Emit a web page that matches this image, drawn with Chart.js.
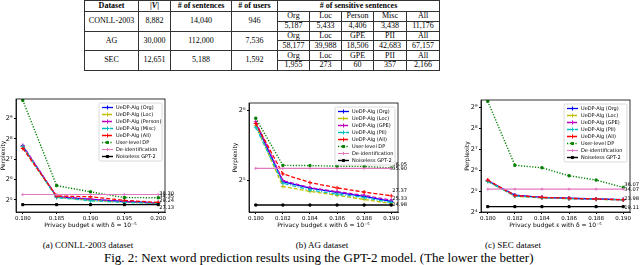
<!DOCTYPE html>
<html>
<head>
<meta charset="utf-8">
<script src="https://cdn.jsdelivr.net/npm/chart.js@4.4.1/dist/chart.umd.min.js"></script>
<style>
  html, body { margin: 0; padding: 0; background: #fff; }
  body { width: 640px; height: 265px; position: relative; overflow: hidden; font-family: "Liberation Serif", "Times New Roman", serif; color: #000; }
  #stats { position: absolute; left: 84px; top: 0; border-collapse: collapse; table-layout: fixed; width: 355px; font-size: 8px; }
  #stats th, #stats td { border: 1px solid #333; text-align: center; padding: 0; line-height: 8px; white-space: nowrap; overflow: hidden; }
  #stats tr.hd { height: 11px; }
  #stats tr.sub { height: 9.8px; }
  canvas { position: absolute; }
  .cap { position: absolute; font-size: 9px; text-align: center; white-space: nowrap; }
  #figcap { position: absolute; left: 104px; top: 250px; font-size: 13px; white-space: nowrap; }
</style>
</head>
<body>
<table id="stats">
  <colgroup>
    <col style="width:54px"><col style="width:32px"><col style="width:61px"><col style="width:46px">
    <col style="width:32px"><col style="width:32px"><col style="width:32px"><col style="width:33px"><col style="width:33px">
  </colgroup>
  <tr class="hd"><th>Dataset</th><th>|<i>V</i>|</th><th># of sentences</th><th># of users</th><th colspan="5"># of sensitive sentences</th></tr>
  <tr class="sub"><td rowspan="2">CONLL-2003</td><td rowspan="2">8,882</td><td rowspan="2">14,040</td><td rowspan="2">946</td><td>Org</td><td>Loc</td><td>Person</td><td>Misc</td><td>All</td></tr>
  <tr class="sub"><td>5,187</td><td>5,433</td><td>4,406</td><td>3,438</td><td>11,176</td></tr>
  <tr class="sub"><td rowspan="2">AG</td><td rowspan="2">30,000</td><td rowspan="2">112,000</td><td rowspan="2">7,536</td><td>Org</td><td>Loc</td><td>GPE</td><td>PII</td><td>All</td></tr>
  <tr class="sub"><td>58,177</td><td>39,988</td><td>18,506</td><td>42,683</td><td>67,157</td></tr>
  <tr class="sub"><td rowspan="2">SEC</td><td rowspan="2">12,651</td><td rowspan="2">5,188</td><td rowspan="2">1,592</td><td>Org</td><td>Loc</td><td>GPE</td><td>PII</td><td>All</td></tr>
  <tr class="sub"><td>1,955</td><td>273</td><td>60</td><td>357</td><td>2,166</td></tr>
</table>

<canvas id="chartA" width="215" height="137" style="left:0px;top:92px"></canvas>
<canvas id="chartB" width="215" height="137" style="left:215px;top:92px"></canvas>
<canvas id="chartC" width="210" height="137" style="left:430px;top:92px"></canvas>

<div class="cap" style="left:38px;top:240px;width:100px">(a) CONLL-2003 dataset</div>
<div class="cap" style="left:272px;top:240px;width:100px">(b) AG dataset</div>
<div class="cap" style="left:463px;top:240px;width:100px">(c) SEC dataset</div>
<div id="figcap">Fig. 2: Next word prediction results using the GPT-2 model. (The lower the better)</div>

<script>
// ---- data: CONLL-2003 ----
const epsA = [0.180, 0.185, 0.190, 0.195, 0.200];
const namesA = ['UeDP-Alg (Org)', 'UeDP-Alg (Loc)', 'UeDP-Alg (Person)', 'UeDP-Alg (Misc)', 'UeDP-Alg (All)', 'User-level DP', 'De-identification', 'Noiseless GPT-2'];
const orgA = [200, 35.5, 32.5, 30.2, 28.9];
const locA = [195, 35.0, 31.5, 29.6, 28.4];
const personA = [205, 35.8, 32.8, 30.0, 28.7];
const miscA = [198, 34.5, 31.0, 29.3, 28.3];
const allA = [185, 36.5, 35.5, 31.5, 29.24];
const userDpA = [960, 52, 42, 34.6, 34.35];
const deidA = [38.30, 38.30, 38.30, 38.30, 38.30];
const noiselessA = [27.13, 27.13, 27.13, 27.13, 27.13];
const notesA = [38.30, 34.35, 29.24, 27.13];

// ---- data: AG ----
const epsB = [0.180, 0.182, 0.184, 0.186, 0.188, 0.190];
const namesB = ['UeDP-Alg (Org)', 'UeDP-Alg (Loc)', 'UeDP-Alg (GPE)', 'UeDP-Alg (PII)', 'UeDP-Alg (All)', 'User-level DP', 'De-identification', 'Noiseless GPT-2'];
const orgB = [56, 31.5, 29.5, 28.3, 27.2, 25.9];
const locB = [55, 30.0, 28.6, 27.5, 26.4, 25.33];
const gpeB = [57, 31.8, 29.7, 28.5, 27.5, 26.2];
const piiB = [54, 31.0, 29.0, 27.8, 26.9, 25.6];
const allB = [56, 34.0, 31.2, 29.6, 28.4, 27.37];
const userDpB = [59, 37.0, 36.9, 36.7, 36.6, 36.05];
const deidB = [35.90, 35.90, 35.90, 35.90, 35.90, 35.90];
const noiselessB = [24.98, 24.98, 24.98, 24.98, 24.98, 24.98];
const notesB = [36.05, 35.90, 27.37, 25.33, 24.98];

// ---- data: SEC ----
const epsC = [0.180, 0.182, 0.184, 0.186, 0.188, 0.190];
const namesC = namesB;
const orgC = [45, 28.0, 26.0, 25.2, 24.6, 24.1];
const locC = [44, 27.0, 25.5, 24.8, 24.3, 23.9];
const gpeC = [45, 27.5, 25.8, 25.0, 24.5, 24.0];
const piiC = [44, 27.2, 25.6, 24.9, 24.4, 23.95];
const allC = [46, 27.6, 26.0, 25.2, 24.6, 23.98];
const userDpC = [620, 75, 69, 53, 46, 36.07];
const deidC = [34.07, 34.07, 34.07, 34.07, 34.07, 34.07];
const noiselessC = [19.11, 19.11, 19.11, 19.11, 19.11, 19.11];
const notesC = [36.07, 34.07, 23.98, 19.11];

// ---- styles ----
const lineStyles = [
  { color: '#0000ff', dash: [], marker: 'cross', r: 2, w: 1.3 },
  { color: '#bfbf00', dash: [4, 2], marker: 'cross', r: 2, w: 1.3 },
  { color: '#bf00bf', dash: [4, 2], marker: 'cross', r: 2, w: 1.3 },
  { color: '#00bfbf', dash: [4, 1.5, 1, 1.5], marker: 'cross', r: 2, w: 1.3 },
  { color: '#ff0000', dash: [4, 2], marker: 'cross', r: 2, w: 1.3 },
  { color: '#008000', dash: [1.2, 1.6], marker: 'rect', r: 1.5, w: 1.4 },
  { color: '#e377c2', dash: [], marker: 'cross', r: 1.5, w: 1.1 },
  { color: '#000000', dash: [], marker: 'rect', r: 1.5, w: 1.4 }
];
const sup = { '-': '⁻', '4': '⁴', '5': '⁵', '6': '⁶', '7': '⁷', '8': '⁸', '9': '⁹', '0': '⁰', '1': '¹' };

Chart.defaults.font.family = 'DejaVu Sans';
Chart.defaults.color = '#000';

function makeSeries(xs, list, names) {
  return list.map((ys, i) => {
    const st = lineStyles[i];
    return {
      label: names[i],
      data: xs.map((x, j) => ({ x: x, y: ys[j] })),
      borderColor: st.color,
      backgroundColor: st.color,
      borderWidth: st.w,
      borderDash: st.dash,
      pointStyle: st.marker,
      pointRadius: st.r,
      pointBorderWidth: 1,
      pointBorderColor: st.color,
      pointBackgroundColor: st.color,
      tension: 0,
      fill: false,
      order: list.length - i
    };
  });
}

// spines, value notes and a matplotlib-like legend inside the axes
const mplDecor = {
  id: 'mplDecor',
  afterDatasetsDraw(chart, args, opts) {
    const { ctx, chartArea: a, scales } = chart;
    ctx.save();
    ctx.setLineDash([]);
    ctx.strokeStyle = '#000';
    ctx.lineWidth = 0.8;
    ctx.strokeRect(a.left, a.top, a.right - a.left, a.bottom - a.top);

    // notes to the right of the last point
    const xEnd = scales.x.getPixelForValue(opts.xEnd);
    ctx.font = '5.2px DejaVu Sans';
    ctx.fillStyle = '#000';
    ctx.textAlign = 'left';
    ctx.textBaseline = 'alphabetic';
    opts.notes.forEach((v, i) => {
      ctx.fillText(v.toFixed(2), xEnd + 1, scales.y.getPixelForValue(v) + (opts.noteDy[i] || 0));
    });

    // legend
    const ds = chart.data.datasets;
    const rowH = 7, w = opts.legendW, h = ds.length * rowH + 2;
    const bx = a.right - 3 - w, by = a.top + 4;
    ctx.fillStyle = 'rgba(255,255,255,0.85)';
    ctx.strokeStyle = '#d0d0d0';
    ctx.lineWidth = 0.8;
    ctx.beginPath();
    ctx.roundRect(bx, by, w, h, 1.5);
    ctx.fill();
    ctx.stroke();
    ds.forEach((d, i) => {
      const y = by + 4.5 + i * rowH;
      const x0 = bx + 3, x1 = bx + 14;
      ctx.strokeStyle = d.borderColor;
      ctx.lineWidth = d.borderWidth;
      ctx.setLineDash(d.borderDash);
      ctx.beginPath();
      ctx.moveTo(x0, y);
      ctx.lineTo(x1, y);
      ctx.stroke();
      ctx.setLineDash([]);
      ctx.fillStyle = d.borderColor;
      ctx.lineWidth = 1;
      Chart.helpers.drawPoint(ctx, { pointStyle: d.pointStyle, radius: d.pointRadius, borderWidth: 1, rotation: 0 }, (x0 + x1) / 2, y);
      ctx.fillStyle = '#000';
      ctx.font = '5px DejaVu Sans';
      ctx.textBaseline = 'middle';
      ctx.fillText(d.label, bx + 17, y + 0.3);
    });
    ctx.restore();
  }
};

function buildChart(id, cfg) {
  const tickFont = { size: 5.5 };
  return new Chart(document.getElementById(id), {
    type: 'line',
    data: { datasets: makeSeries(cfg.xs, cfg.series, cfg.names) },
    options: {
      responsive: false,
      animation: false,
      layout: { padding: cfg.padding },
      plugins: {
        legend: { display: false },
        tooltip: { enabled: false },
        mplDecor: { xEnd: cfg.xs[cfg.xs.length - 1], notes: cfg.notes, noteDy: cfg.noteDy, legendW: cfg.legendW }
      },
      scales: {
        x: {
          type: 'linear',
          min: cfg.xMin, max: cfg.xMax,
          afterBuildTicks: s => { s.ticks = cfg.xs.map(v => ({ value: v })); },
          afterFit: s => { s.height = 17; },
          ticks: { callback: v => v.toFixed(3), font: tickFont, padding: 1, maxRotation: 0, autoSkip: false },
          grid: { drawOnChartArea: false, tickLength: 2, color: '#000', tickColor: '#000' },
          border: { color: '#000', width: 0.8 },
          title: { display: true, text: 'Privacy budget ε with δ = 10⁻⁵', font: { size: 6 }, padding: 0 }
        },
        y: {
          type: 'logarithmic',
          min: cfg.yMin, max: cfg.yMax,
          afterBuildTicks: s => { s.ticks = cfg.yTicks.map(v => ({ value: v })); },
          afterFit: s => { s.width = cfg.yWidth; },
          ticks: { callback: v => '2' + String(Math.round(Math.log2(v))).split('').map(c => sup[c]).join(''), font: { size: 6.5 }, padding: 1.5, autoSkip: false },
          grid: { drawOnChartArea: false, tickLength: 2, color: '#000', tickColor: '#000' },
          border: { color: '#000', width: 0.8 },
          title: { display: true, text: 'Perplexity', font: { size: 6 }, padding: 0 }
        }
      }
    },
    plugins: [mplDecor]
  });
}

buildChart('chartA', {
  xs: epsA, names: namesA,
  series: [orgA, locA, personA, miscA, allA, userDpA, deidA, noiselessA],
  notes: notesA, noteDy: [0, 0, 0, 4],
  xMin: 0.179, xMax: 0.201,
  yMin: Math.pow(2, 4.4), yMax: Math.pow(2, 9.97), yTicks: [32, 64, 128, 256, 512],
  yWidth: 16, legendW: 63,
  padding: { left: 0, top: 7, right: 50, bottom: 0 }
});

buildChart('chartB', {
  xs: epsB, names: namesB,
  series: [orgB, locB, gpeB, piiB, allB, userDpB, deidB, noiselessB],
  notes: notesB, noteDy: [-2, 2, -4, -4, 1],
  xMin: 0.1795, xMax: 0.1905,
  yMin: Math.pow(2, 4.543), yMax: Math.pow(2, 6.1), yTicks: [32, 64],
  yWidth: 17.5, legendW: 60,
  padding: { left: 16.5, top: 11, right: 32, bottom: 0 }
});

buildChart('chartC', {
  xs: epsC, names: namesC,
  series: [orgC, locC, gpeC, piiC, allC, userDpC, deidC, noiselessC],
  notes: notesC, noteDy: [-1, 2, 0, 2],
  xMin: 0.1795, xMax: 0.1905,
  yMin: 16, yMax: Math.pow(2, 9.34), yTicks: [16, 32, 64, 128, 256, 512],
  yWidth: 17.5, legendW: 63,
  padding: { left: 33.5, top: 8, right: 10, bottom: 0 }
});
</script>
</body>
</html>
